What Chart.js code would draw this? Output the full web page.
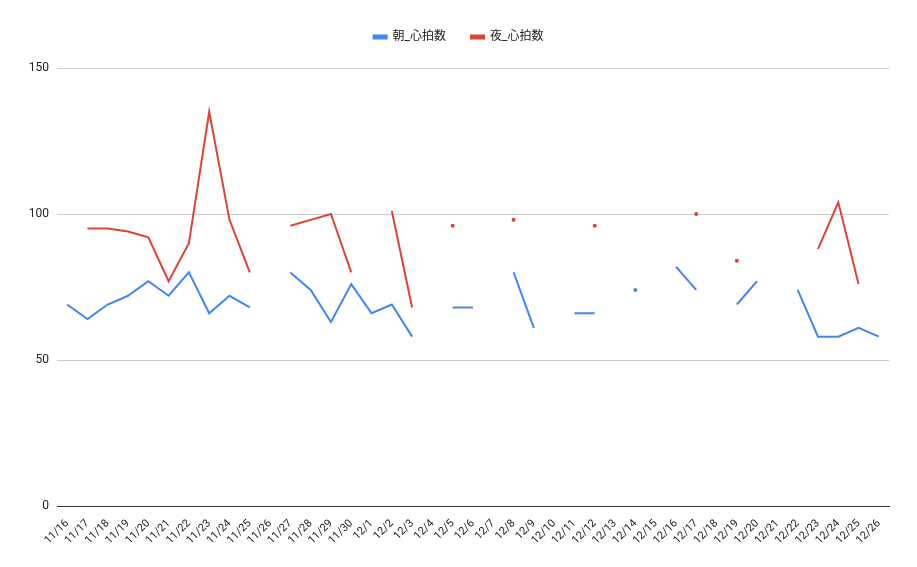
<!DOCTYPE html>
<html>
<head>
<meta charset="utf-8">
<script src="https://cdn.jsdelivr.net/npm/chart.js@4"></script>
<style>
    html, body { margin: 0; padding: 0; background: #fff; }
    #wrap { width: 917px; height: 567px; }
</style>
</head>
<body>
<div id="wrap"><canvas id="heartChart" width="917" height="567"></canvas></div>
<script>
const dates = [
    '11/16', '11/17', '11/18', '11/19', '11/20', '11/21', '11/22', '11/23', '11/24', '11/25',
    '11/26', '11/27', '11/28', '11/29', '11/30', '12/1', '12/2', '12/3', '12/4', '12/5',
    '12/6', '12/7', '12/8', '12/9', '12/10', '12/11', '12/12', '12/13', '12/14', '12/15',
    '12/16', '12/17', '12/18', '12/19', '12/20', '12/21', '12/22', '12/23', '12/24', '12/25', '12/26'
];
const morningRate = [
    69, 64, 69, 72, 77, 72, 80, 66, 72, 68,
    null, 80, 74, 63, 76, 66, 69, 58, null, 68,
    68, null, 80, 61, null, 66, 66, null, 74, null,
    82, 74, null, 69, 77, null, 74, 58, 58, 61, 58
];
const nightRate = [
    null, 95, 95, 94, 92, 77, 90, 135, 98, 80,
    null, 96, 98, 100, 80, null, 101, 68, null, 96,
    null, null, 98, null, null, null, 96, null, null, null,
    null, 100, null, 84, null, null, null, 88, 104, 76, null
];
const yTicks = [0, 50, 100, 150];

// isolated values have no line segment, so draw them as a dot
function loneDot(ctx) {
    const d = ctx.dataset.data;
    const i = ctx.dataIndex;
    if (d[i] == null) return 0;
    const prev = i > 0 ? d[i - 1] : null;
    const next = i < d.length - 1 ? d[i + 1] : null;
    return (prev == null && next == null) ? 2 : 0;
}

// extra room between legend and plot
const legendGap = {
    id: 'legendGap',
    beforeInit(chart) {
        const fit = chart.legend.fit;
        chart.legend.fit = function () {
            fit.bind(chart.legend)();
            this.height += 15;
        };
    }
};

document.addEventListener('DOMContentLoaded', function () {
    const ctx = document.getElementById('heartChart').getContext('2d');
    new Chart(ctx, {
        type: 'line',
        data: {
            labels: dates,
            datasets: [
                {
                    label: '朝_心拍数',
                    data: morningRate,
                    borderColor: '#4285f4',
                    backgroundColor: '#4285f4',
                    borderWidth: 2,
                    tension: 0,
                    spanGaps: false,
                    pointRadius: loneDot,
                    pointHoverRadius: 3,
                    pointBorderWidth: 0
                },
                {
                    label: '夜_心拍数',
                    data: nightRate,
                    borderColor: '#db4437',
                    backgroundColor: '#db4437',
                    borderWidth: 2,
                    tension: 0,
                    spanGaps: false,
                    pointRadius: loneDot,
                    pointHoverRadius: 3,
                    pointBorderWidth: 0
                }
            ]
        },
        options: {
            responsive: false,
            animation: false,
            layout: {
                padding: { top: 6, right: 28, left: 28, bottom: 0 }
            },
            plugins: {
                legend: {
                    position: 'top',
                    labels: {
                        boxWidth: 13,
                        boxHeight: 3,
                        padding: 25,
                        color: '#222',
                        font: { family: 'Roboto, "Noto Sans CJK JP", sans-serif', size: 12 }
                    }
                },
                tooltip: { enabled: true }
            },
            scales: {
                x: {
                    offset: true,
                    grid: { display: false },
                    border: { color: '#333', width: 1 },
                    ticks: {
                        autoSkip: false,
                        maxRotation: 45,
                        minRotation: 45,
                        color: '#222',
                        font: { family: 'Roboto, sans-serif', size: 11 }
                    },
                    afterFit: function (axis) { axis.height = 61; }
                },
                y: {
                    min: yTicks[0],
                    max: yTicks[yTicks.length - 1],
                    afterBuildTicks: function (axis) {
                        axis.ticks = yTicks.map(v => ({ value: v }));
                    },
                    grid: {
                        color: function (c) { return c.tick.value === 0 ? '#333' : '#cccccc'; },
                        drawTicks: false
                    },
                    border: { display: false },
                    ticks: {
                        padding: 8,
                        color: '#222',
                        font: { family: 'Roboto, sans-serif', size: 12 }
                    },
                    afterFit: function (axis) { axis.width = 29; }
                }
            }
        },
        plugins: [legendGap]
    });
});
</script>
</body>
</html>
